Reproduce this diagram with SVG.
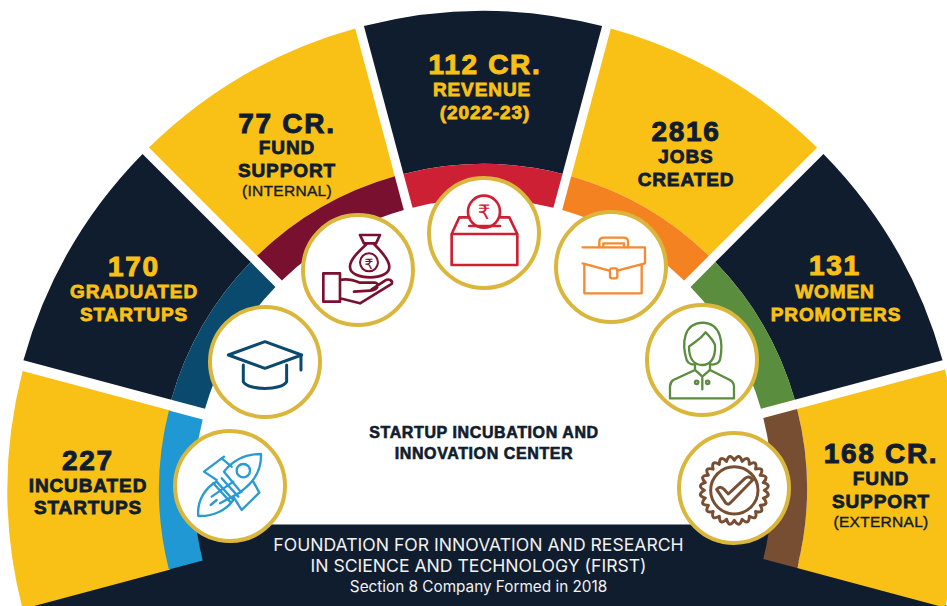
<svg xmlns="http://www.w3.org/2000/svg" width="947" height="606" viewBox="0 0 947 606">
<style>
text{text-anchor:middle;font-family:"Liberation Sans",Arial,sans-serif}
.num{font-size:28px;font-weight:700;stroke-width:1px;letter-spacing:1.7px}
.lab{font-size:19px;font-weight:700;stroke-width:.8px;letter-spacing:.9px}
.sub{font-size:15.5px;font-weight:400;stroke-width:.4px;letter-spacing:.3px}
.dk{fill:#101d2e;stroke:#101d2e}
.yl{fill:#f9c016;stroke:#f9c016}
.ring{fill:#fff;stroke:#dbb63c;stroke-width:4px}
.ic{fill:none;stroke-linecap:round;stroke-linejoin:round}
.mid{font-size:16px;font-weight:700;fill:#101d2e;stroke:#101d2e;stroke-width:.6px;letter-spacing:.6px}
.foot{font-family:Inter,"Liberation Sans",sans-serif;fill:#f2f2f2}
.rs{font-family:"DejaVu Sans","Noto Sans",sans-serif;font-weight:400}
</style>
<defs>
<path id="wedge" d="M363.9 26.1A477 477 0 0 1 602.1 26.1L562.5 173.9A324 324 0 0 0 403.5 173.9Z"/>
<path id="band" d="M403.5 173.9A324 324 0 0 1 562.5 173.9L553.4 207.7A289 289 0 0 0 412.6 207.7Z"/>
</defs>
<rect width="947" height="606" fill="#fff"/>
<g id="foundation">
<path d="M196.5 524.5H769.5L790 560L930 595L947 606H32L60 592L180 560Z" fill="#101d2e"/>
<text class="foot" x="478.5" y="551" font-size="17.6">FOUNDATION FOR INNOVATION AND RESEARCH</text>
<text class="foot" x="478.5" y="572" font-size="17.6">IN SCIENCE AND TECHNOLOGY (FIRST)</text>
<text class="foot" x="478.5" y="592" font-size="15.3">Section 8 Company Formed in 2018</text>
</g>
<g id="center-label">
<text class="mid" x="484" y="438">STARTUP INCUBATION AND</text>
<text class="mid" x="484" y="459">INNOVATION CENTER</text>
</g>
<g id="incubated">
<use href="#wedge" fill="#f9c016" transform="translate(1.5 2) rotate(-90 483 488)"/>
<use href="#band" fill="#2098d3" transform="translate(0 2) rotate(-90 483 488)"/>
<circle class="ring" cx="230" cy="486" r="55"/>
<g class="ic" stroke="#2a9bd2" stroke-width="7" transform="translate(0 300) scale(.3333)">
<path d="M783 462C740 462 700 480 672 515L722 575C765 545 785 505 783 462Z"/>
<circle cx="730" cy="512" r="20"/>
<path d="M672 470L612 515L650 540M665 475L695 500M778 578L725 630L700 590M778 578L760 545"/>
<path d="M595 648C590 600 620 560 650 545L700 600C680 630 640 650 595 648Z"/>
<path d="M635 590L700 545M660 610L725 575M640 550L690 605M665 535L715 590M632 615L650 600"/>
</g>
<text class="num dk" x="88" y="470">227</text>
<text class="lab dk" x="88" y="492">INCUBATED</text>
<text class="lab dk" x="88" y="514">STARTUPS</text>
</g>
<g id="graduated">
<use href="#wedge" fill="#101d2e" transform="rotate(-60 483 488)"/>
<use href="#band" fill="#0a4a6e" transform="rotate(-60 483 488)"/>
<circle class="ring" cx="265" cy="362" r="55"/>
<g class="ic" stroke="#0a4a6e" stroke-width="9" transform="translate(0 300) scale(.3333)">
<path d="M795 125L685 165L795 205L905 165ZM903 165V210M730 195V245C745 272 845 272 860 245V195"/>
</g>
<text class="num yl" x="134" y="276">170</text>
<text class="lab yl" x="134" y="298">GRADUATED</text>
<text class="lab yl" x="134" y="321">STARTUPS</text>
</g>
<g id="fund-internal">
<use href="#wedge" fill="#f9c016" transform="rotate(-30 483 488)"/>
<use href="#band" fill="#7a102f" transform="rotate(-30 483 488)"/>
<circle class="ring" cx="358" cy="270" r="55"/>
<g class="ic" stroke="#7a102f" stroke-width="8" transform="translate(250 130) scale(.3333)">
<path d="M330 315H390L378 340H342ZM350 342C320 370 300 390 300 410C300 432 330 442 360 442C390 442 418 432 418 410C418 390 395 365 372 342"/>
<circle cx="357" cy="397" r="27" stroke-width="6"/>
<path d="M220 430H270V515H220ZM270 450C290 445 310 450 330 458H375C390 460 385 480 360 482L312 485M270 505L330 520L425 462C430 450 415 445 405 452L365 478"/>
</g>
<text class="rs" x="369" y="268.500" font-size="14" fill="#7a102f">₹</text>
<text class="num dk" x="287" y="132.700">77 CR.</text>
<text class="lab dk" x="287" y="154">FUND</text>
<text class="lab dk" x="287" y="176.700">SUPPORT</text>
<text class="sub dk" x="287" y="196">(INTERNAL)</text>
</g>
<g id="revenue">
<use href="#wedge" fill="#101d2e"/>
<use href="#band" fill="#ce2035"/>
<circle class="ring" cx="484" cy="233" r="55"/>
<g class="ic" stroke="#ce2035" stroke-width="8" transform="translate(250 130) scale(.3333)">
<path d="M605 312H802V405H605ZM605 312L628 262H658M752 262H778L802 312M658 288H750"/>
<circle cx="702" cy="245" r="48"/>
</g>
<text class="rs" x="484" y="218.500" font-size="20" fill="#ce2035">₹</text>
<text class="num yl" x="485" y="74">112 CR.</text>
<text class="lab yl" x="482" y="96">REVENUE</text>
<text class="lab yl" x="485" y="119">(2022-23)</text>
</g>
<g id="jobs">
<use href="#wedge" fill="#f9c016" transform="rotate(30 483 488)"/>
<use href="#band" fill="#f58220" transform="rotate(30 483 488)"/>
<circle class="ring" cx="611" cy="267" r="55"/>
<g class="ic" stroke="#f58a32" stroke-width="7" transform="translate(540 130) scale(.3333)">
<path d="M128 352H315V400L232 422M208 422L128 400ZM133 405V490H305V405"/>
<path d="M178 352V335Q178 323 192 323H250Q264 323 264 335V352M190 352V340H252V352"/>
<rect x="210" y="415" width="22" height="30" rx="6"/>
</g>
<text class="num dk" x="686" y="141">2816</text>
<text class="lab dk" x="686" y="163">JOBS</text>
<text class="lab dk" x="686" y="186">CREATED</text>
</g>
<g id="women">
<use href="#wedge" fill="#101d2e" transform="rotate(60 483 488)"/>
<use href="#band" fill="#5b8d3e" transform="rotate(60 483 488)"/>
<circle class="ring" cx="702" cy="360" r="55"/>
<g class="ic" stroke="#5b8d3e" stroke-width="7" transform="translate(540 130) scale(.3333)">
<path d="M465 702C460 705 445 703 440 690C425 640 430 580 488 578C545 580 550 640 540 690C535 705 515 705 510 702"/>
<path d="M447 650C447 690 465 705 487 705C510 705 528 685 525 645C520 630 505 615 497 607C480 630 465 635 447 650Z"/>
<path d="M465 705V720L487 740L510 720V705M465 720L400 750Q390 757 390 770V805H582V770Q582 757 570 750L510 720M487 745V778"/>
<circle cx="470" cy="757" r="5"/><circle cx="503" cy="757" r="5"/>
</g>
<text class="num yl" x="835" y="275">131</text>
<text class="lab yl" x="835" y="298">WOMEN</text>
<text class="lab yl" x="836" y="321">PROMOTERS</text>
</g>
<g id="fund-external">
<use href="#wedge" fill="#f9c016" transform="translate(0 .5) rotate(90 483 488)"/>
<use href="#band" fill="#784e32" transform="translate(0 .5) rotate(90 483 488)"/>
<circle class="ring" cx="734" cy="488" r="55"/>
<g class="ic" stroke="#784e32" stroke-width="9" transform="translate(620 300) scale(.3333) translate(343 571)">
<path d="M90 0Q115 15.100 86.900 23.300Q107.200 44.400 77.900 45Q92 70.600 63.600 63.600Q70.600 92 45 77.900Q44.400 107.200 23.300 86.900Q15.100 115 0 90Q-15.100 115 -23.300 86.900Q-44.400 107.200 -45 77.900Q-70.600 92 -63.600 63.600Q-92 70.600 -77.900 45Q-107.200 44.400 -86.900 23.300Q-115 15.100 -90 0Q-115 -15.100 -86.900 -23.300Q-107.200 -44.400 -77.900 -45Q-92 -70.600 -63.600 -63.600Q-70.600 -92 -45 -77.900Q-44.400 -107.200 -23.300 -86.900Q-15.100 -115 0 -90Q15.100 -115 23.300 -86.900Q44.400 -107.200 45 -77.900Q70.600 -92 63.600 -63.600Q92 -70.600 77.900 -45Q107.200 -44.400 86.900 -23.300Q115 -15.100 90 0Z"/>
<circle r="71"/>
<path d="M-53 -3Q-43 -16 -31 -3L-18 11L32 -36Q45 -46 55 -31L-13 39Q-18 44 -25 39Z"/>
</g>
<text class="num dk" x="881" y="463">168 CR.</text>
<text class="lab dk" x="881" y="485">FUND</text>
<text class="lab dk" x="881" y="508">SUPPORT</text>
<text class="sub dk" x="881" y="527">(EXTERNAL)</text>
</g>
</svg>
